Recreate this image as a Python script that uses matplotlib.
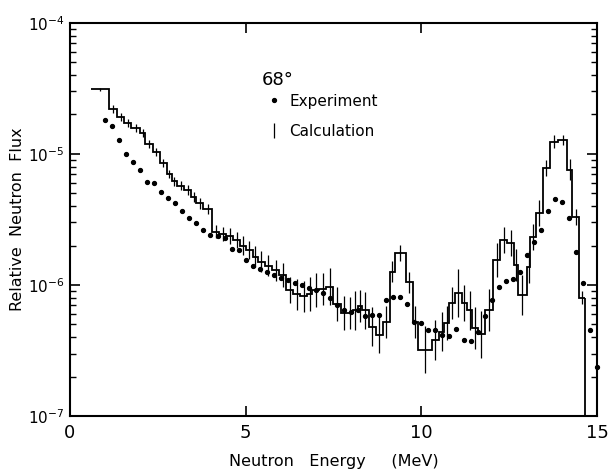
import numpy as np
import matplotlib
matplotlib.use("Agg")
import matplotlib.pyplot as plt

# calculation histogram (bin edges in MeV, flux per bin)
calc_edges = [0.6, 1.1, 1.35, 1.55, 1.75, 2.0, 2.15, 2.35, 2.55, 2.75, 2.9, 3.05, 3.25, 3.45,
              3.6, 3.8, 4.05, 4.25, 4.45, 4.65, 4.85, 5.0, 5.2, 5.35, 5.55, 5.75, 5.95, 6.15,
              6.35, 6.55, 6.75, 6.9, 7.1, 7.3, 7.5, 7.7, 7.9, 8.05, 8.2, 8.3, 8.5, 8.7, 8.9,
              9.1, 9.25, 9.55, 9.75, 9.9, 10.3, 10.5, 10.65, 10.8, 10.95, 11.15, 11.3, 11.45,
              11.6, 11.8, 12.05, 12.25, 12.45, 12.65, 12.75, 13.0, 13.1, 13.25, 13.45, 13.65,
              13.9, 14.15, 14.3, 14.5, 14.65]
calc_flux = [3.1e-5, 2.2e-5, 1.9e-5, 1.72e-5, 1.58e-5, 1.45e-5, 1.19e-5, 1.03e-5, 8.5e-6,
             7.0e-6, 6.2e-6, 5.7e-6, 5.3e-6, 4.7e-6, 4.2e-6, 3.8e-6,
             2.55e-6, 2.45e-6, 2.37e-6, 2.2e-6, 2.0e-6, 1.85e-6, 1.64e-6, 1.5e-6, 1.4e-6,
             1.3e-6, 1.19e-6,
             9.2e-7, 8.5e-7, 8.2e-7, 8.5e-7, 9.2e-7, 9.3e-7, 9.7e-7, 7.2e-7, 6.1e-7, 6.1e-7,
             6.4e-7, 6.9e-7, 6.4e-7, 4.8e-7, 4.15e-7, 5.2e-7,
             1.26e-6, 1.75e-6, 1.05e-6, 5.2e-7, 3.2e-7, 3.8e-7, 4.4e-7, 5.1e-7, 7.3e-7,
             8.7e-7, 7.3e-7, 6.4e-7, 4.7e-7, 4.2e-7, 6.5e-7,
             1.55e-6, 2.2e-6, 2.1e-6, 1.42e-6, 8.4e-7, 1.37e-6, 2.32e-6, 3.55e-6,
             7.8e-6, 1.24e-5, 1.28e-5, 7.55e-6, 3.3e-6, 8.0e-7]
# error bar half length, in decades
calc_err = [0.01,
            0.03, 0.03, 0.03, 0.03, 0.03, 0.03, 0.03, 0.03, 0.03, 0.035, 0.035, 0.035, 0.04, 0.04, 0.04,
            0.05, 0.05, 0.06, 0.06, 0.07, 0.07, 0.08, 0.08, 0.08, 0.08, 0.09,
            0.10, 0.12, 0.12, 0.13, 0.13, 0.12, 0.14, 0.13, 0.13, 0.12, 0.15, 0.12, 0.14, 0.15, 0.14, 0.12,
            0.08, 0.06, 0.08, 0.12, 0.18, 0.15, 0.15, 0.13, 0.12, 0.18, 0.14, 0.15, 0.16, 0.18, 0.16,
            0.13, 0.10, 0.10, 0.12, 0.15, 0.12, 0.10, 0.10,
            0.06, 0.05, 0.04, 0.08, 0.06, 0.05]

# experiment points
exp_energy = [1.0, 1.2, 1.4, 1.6, 1.8, 2.0, 2.2, 2.4, 2.6, 2.8, 3.0, 3.2, 3.4, 3.6, 3.8, 4.0,
              4.2, 4.4, 4.6, 4.8, 5.0, 5.2, 5.4, 5.6, 5.8, 6.0, 6.2, 6.4, 6.6, 6.8, 7.0, 7.2,
              7.4, 7.6, 7.8, 8.0, 8.2, 8.4, 8.6, 8.8, 9.0, 9.2, 9.4, 9.6, 9.8, 10.0, 10.2, 10.4,
              10.6, 10.8, 11.0, 11.2, 11.4, 11.6, 11.8, 12.0, 12.2, 12.4, 12.6, 12.8, 13.0, 13.2,
              13.4, 13.6, 13.8, 14.0, 14.2, 14.4, 14.6, 14.8, 15.0]
exp_flux = [1.82e-5, 1.64e-5, 1.28e-5, 1.0e-5, 8.7e-6, 7.55e-6, 6.1e-6, 6.0e-6, 5.1e-6, 4.6e-6,
            4.2e-6, 3.67e-6, 3.25e-6, 2.97e-6, 2.63e-6, 2.41e-6, 2.37e-6, 2.29e-6, 1.88e-6,
            1.85e-6, 1.55e-6, 1.4e-6, 1.32e-6, 1.26e-6, 1.19e-6, 1.13e-6, 1.09e-6, 1.04e-6,
            1.0e-6, 9.5e-7, 9.2e-7, 8.7e-7, 8.0e-7, 7.0e-7, 6.4e-7, 6.2e-7, 6.4e-7, 5.8e-7,
            5.9e-7, 5.9e-7, 7.7e-7, 8.1e-7, 8.1e-7, 7.2e-7, 5.2e-7, 5.1e-7, 4.5e-7, 4.5e-7,
            4.15e-7, 4.1e-7, 4.6e-7, 3.8e-7, 3.75e-7, 4.4e-7, 5.8e-7, 7.7e-7, 9.7e-7, 1.07e-6,
            1.11e-6, 1.26e-6, 1.7e-6, 2.13e-6, 2.63e-6, 3.67e-6, 4.5e-6, 4.3e-6, 3.25e-6,
            1.79e-6, 1.04e-6, 4.5e-7, 2.37e-7]

fig = plt.figure(figsize=(6.08, 4.75), dpi=100)
ax = fig.add_axes([0.115, 0.124, 0.867, 0.828])

edges = np.array(calc_edges)
flux = np.array(calc_flux)
err = np.array(calc_err)
centers = (edges[:-1] + edges[1:]) / 2

ax.set_yscale("log")
ax.set_xlim(0, 15)
ax.set_ylim(1e-7, 1e-4)

ax.stairs(flux, edges, color="black", lw=1.3, baseline=None)
ax.vlines(edges[-1], 1e-7, flux[-1], color="black", lw=1.3)
eb = ax.errorbar(centers, flux, yerr=[flux - flux * 10 ** -err, flux * 10 ** err - flux],
                 fmt="none", ecolor="black", elinewidth=0.9, label="Calculation")
dots, = ax.plot(exp_energy, exp_flux, "o", ms=2.8, color="black", label="Experiment",
                clip_on=False)

ax.text(5.45, 3.35e-5, "68°", fontsize=13)
ax.legend(handles=[dots, eb], frameon=False, loc="upper left", bbox_to_anchor=(0.35, 0.855),
          fontsize=11, handlelength=0.7, handletextpad=0.7, labelspacing=1.0)

ax.set_xticks([0, 5, 10, 15])
ax.set_xticklabels(["0", "5", "10", "15"])
ax.set_yticks([1e-7, 1e-6, 1e-5, 1e-4])
ax.set_yticklabels([r"$10^{-7}$", r"$10^{-6}$", r"$10^{-5}$", r"$10^{-4}$"])
ax.tick_params(which="both", direction="in", top=True, right=True)
ax.tick_params(axis="x", labelsize=13, pad=6)
ax.tick_params(axis="y", labelsize=11, pad=4)
ax.tick_params(which="major", length=7, width=1.2)
ax.tick_params(which="minor", length=4, width=1)
for s in ax.spines.values():
    s.set_linewidth(1.5)

ax.set_xlabel("Neutron   Energy     (MeV)", fontsize=11.5, labelpad=8)
ax.set_ylabel("Relative  Neutron  Flux", fontsize=11.5, labelpad=2)

fig.savefig("out.png", dpi=100)
